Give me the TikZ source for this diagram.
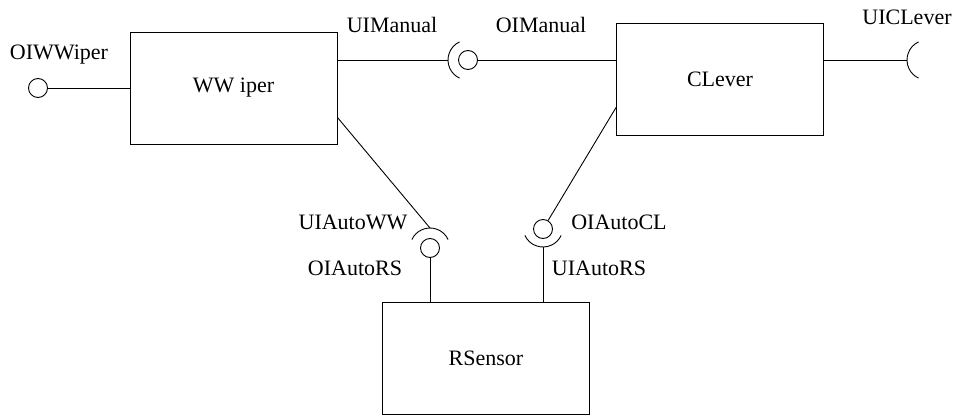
\documentclass[tikz,border=0pt]{standalone}
\usepackage{fontspec}
\newfontfamily\tnrfont{Liberation Serif}
\begin{document}
\begin{tikzpicture}[x=1pt,y=1pt,line width=0.9pt,
    every node/.style={font=\tnrfont\fontsize{22}{26}\selectfont},
    comp/.style={draw,minimum width=207pt,minimum height=112pt},
    ball/.style={circle,draw,minimum size=19pt,inner sep=0pt}] %
  \useasboundingbox (0,0) rectangle (955,416);%
  % components
  \node[comp] (wwiper) at (233.5,328) {WW iper};%
  \node[comp] (clever) at (720,337) {CLever};%
  \node[comp] (rsensor) at (486,57.5) {RSensor};%
  % provided interfaces (balls)
  \node[ball] (oiwwiper) at (38,328) {};%
  \node[ball] (oimanual) at (468,356) {};%
  \node[ball] (oiautors) at (430,168) {};%
  \node[ball] (oiautocl) at (543,187) {};%
  % required interfaces (socket centres)
  \coordinate (uimanual) at (468,356);%
  \coordinate (uiclever) at (927,356);%
  \coordinate (uiautoww) at (430,168);%
  \coordinate (uiautors) at (543,189);%
  \foreach \s/\a in {uimanual/180,uiclever/180,uiautoww/90,uiautors/270}%
    \draw ([shift={(\a-65:20pt)}]\s) arc[start angle=\a-65,end angle=\a+65,radius=20pt];%

  \draw (oiwwiper)--(wwiper);%
  \draw (wwiper.east |- uimanual)--([xshift=-20pt]uimanual);%
  \draw (oimanual)--(clever.west |- oimanual);%
  \draw (clever.east |- uiclever)--([xshift=-20pt]uiclever);%
  \draw ([yshift=27pt]wwiper.south east)--([yshift=20pt]uiautoww);%
  \draw (oiautors)--(rsensor.north -| oiautors);%
  \draw (oiautocl)--([yshift=28pt]clever.south west);%
  \draw ([yshift=-20pt]uiautors)--(rsensor.north -| uiautors);%

  % labels
  \node (loiwwiper) at (59,361) {OIWWiper};%
  \node (luimanual) at (392,391) {UIManual};%
  \node (loimanual) at (541,391) {OIManual};%
  \node (luiclever) at (907,399) {UICLever};%
  \node (luiautoww) at (353,194) {UIAutoWW};%
  \node (loiautors) at (355,148) {OIAutoRS};%
  \node (loiautocl) at (619,194) {OIAutoCL};%
  \node (luiautors) at (599,148) {UIAutoRS};%
\end{tikzpicture}
\end{document}
